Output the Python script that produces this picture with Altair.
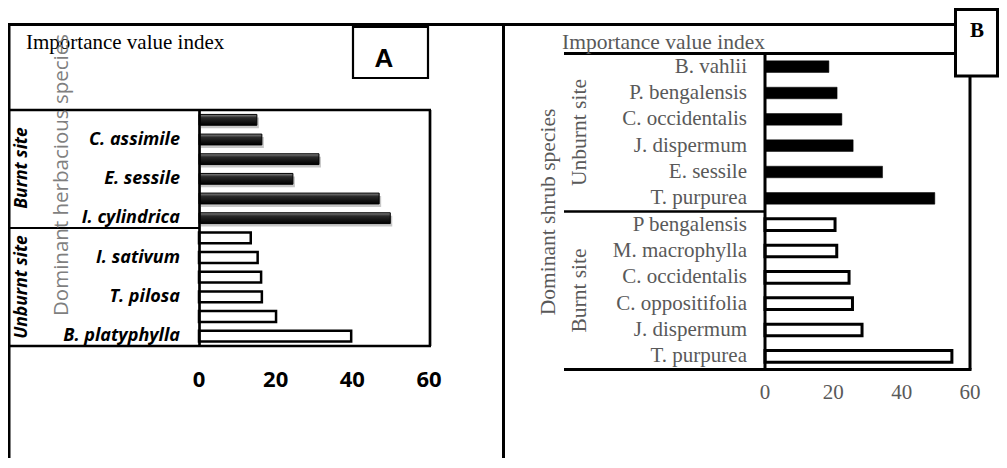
import altair as alt
import pandas as pd

# ---------------- data ----------------
# Panel A: dominant herbaceous species (every second bar is labelled)
a_burnt_labels = ["", "C. assimile", "", "E. sessile", "", "I. cylindrica"]
a_burnt_values = [15.1, 16.4, 31.3, 24.5, 47.0, 49.9]
a_unburnt_labels = ["", "I. sativum", "", "T. pilosa", "", "B. platyphylla"]
a_unburnt_values = [13.5, 15.3, 16.2, 16.4, 20.1, 39.7]

# Panel B: dominant shrub species
b_unburnt_species = ["B. vahlii", "P. bengalensis", "C. occidentalis",
                     "J. dispermum", "E. sessile", "T. purpurea"]
b_unburnt_values = [18.7, 21.1, 22.5, 25.8, 34.4, 49.7]
b_burnt_species = ["P bengalensis", "M. macrophylla", "C. occidentalis",
                   "C. oppositifolia", "J. dispermum", "T. purpurea"]
b_burnt_values = [20.5, 21.0, 24.6, 25.6, 28.4, 54.7]

ticks = [0, 20, 40, 60]

a_df = pd.DataFrame({
    "row": list(range(12)),
    "label": a_burnt_labels + a_unburnt_labels,
    "value": a_burnt_values + a_unburnt_values,
    "site": ["Burnt"] * 6 + ["Unburnt"] * 6,
})
b_df = pd.DataFrame({
    "row": list(range(12)),
    "label": b_unburnt_species + b_burnt_species,
    "value": b_unburnt_values + b_burnt_values,
    "site": ["Unburnt"] * 6 + ["Burnt"] * 6,
})
tick_df = pd.DataFrame({"t": ticks})

# ---------------- layout helpers (page coordinates, 8px margin) ----------------
M = 8


def px(v):
    return alt.value(v - M)


def hline(x1, x2, y, w=3):
    return alt.Chart().mark_rule(color="black", strokeWidth=w).encode(
        x=px(x1), x2=px(x2), y=px(y))


def vline(x, y1, y2, w=3):
    return alt.Chart().mark_rule(color="black", strokeWidth=w).encode(
        x=px(x), y=px(y1), y2=px(y2))


def box(x1, y1, x2, y2, w=2.5):
    return alt.Chart().mark_rect(fill="white", stroke="black", strokeWidth=w).encode(
        x=px(x1), x2=px(x2), y=px(y1), y2=px(y2))


def text(t, x, y, **kw):
    return alt.Chart().mark_text(text=t, **kw).encode(x=px(x), y=px(y))


# ---------------- scales ----------------
a_x = alt.Scale(domain=[0, 60], range=[199 - M, 429 - M], nice=False)
a_y = alt.Scale(domain=list(range(12)), range=[110 - M, 346 - M],
                paddingInner=0.45, paddingOuter=0.225)
b_x = alt.Scale(domain=[0, 60], range=[765 - M, 970 - M], nice=False)
b_y = alt.Scale(domain=list(range(12)), range=[53.5 - M, 369.5 - M],
                paddingInner=0.56, paddingOuter=0.28)

dark_grad = alt.LinearGradient(
    gradient="linear", x1=0, y1=0, x2=0, y2=1,
    stops=[alt.GradientStop(color="#8a8a8a", offset=0),
           alt.GradientStop(color="#2a2a2a", offset=0.3),
           alt.GradientStop(color="#111111", offset=0.7),
           alt.GradientStop(color="#000000", offset=1)])

SANS = "Open Sans"

# ---------------- panel A ----------------
a_base = alt.Chart(a_df).encode(
    y=alt.Y("row:O", scale=a_y, axis=None),
    x=alt.X("value:Q", scale=a_x, axis=None),
)
a_shadow = a_base.transform_filter("datum.site == 'Burnt'").mark_bar(
    color="#000000", opacity=0.22, xOffset=2, yOffset=3)
a_dark = a_base.transform_filter("datum.site == 'Burnt'").mark_bar(
    fill=dark_grad, stroke="#000000", strokeWidth=1)
a_white = a_base.transform_filter("datum.site == 'Unburnt'").mark_bar(
    fill="white", stroke="black", strokeWidth=2.5)
a_labels = alt.Chart(a_df).mark_text(
    align="right", baseline="middle", font=SANS, fontWeight="bold",
    fontStyle="italic", fontSize=18, color="black").encode(
    y=alt.Y("row:O", scale=a_y, axis=None), x=px(180), text="label:N")
a_ticks = alt.Chart(tick_df).mark_text(
    align="center", baseline="middle", font=SANS, fontWeight="bold",
    fontSize=22, color="black").encode(
    x=alt.X("t:Q", scale=a_x, axis=None), y=px(380),
    text=alt.Text("t:Q", format="d"))

panel_a = [
    vline(9, 23, 470),
    hline(8, 503, 24.5),
    hline(8, 431, 110, 2.7),
    hline(8, 431, 346, 2.7),
    hline(8, 199, 228, 2.2),
    vline(430, 110, 346, 2.7),
    a_shadow, a_dark, a_white,
    vline(199.5, 110, 346, 2.7),
    a_labels, a_ticks,
    text("Importance value index", 26, 48.5, align="left", baseline="alphabetic",
         font="Liberation Serif", fontSize=21, color="black"),
    text("Dominant herbacious species", 62, 175, align="center", baseline="middle",
         angle=270, font=SANS, fontSize=20.5, color="#7f7f7f"),
    text("Burnt site", 22, 168, align="center", baseline="middle", angle=270,
         font=SANS, fontWeight="bold", fontStyle="italic", fontSize=17.5, color="black"),
    text("Unburnt site", 22, 287, align="center", baseline="middle", angle=270,
         font=SANS, fontWeight="bold", fontStyle="italic", fontSize=17.5, color="black"),
    box(353, 27, 428, 78, 2.2),
    text("A", 384, 66.5, align="center", baseline="alphabetic",
         font="Liberation Sans", fontWeight="bold", fontSize=26, color="black"),
]

# ---------------- panel B ----------------
b_base = alt.Chart(b_df).encode(
    y=alt.Y("row:O", scale=b_y, axis=None),
    x=alt.X("value:Q", scale=b_x, axis=None),
)
b_dark = b_base.transform_filter("datum.site == 'Unburnt'").mark_bar(
    fill="black", stroke="black", strokeWidth=0.5)
b_white = b_base.transform_filter("datum.site == 'Burnt'").mark_bar(
    fill="white", stroke="black", strokeWidth=3)
gray = "#595959"
b_labels = alt.Chart(b_df).mark_text(
    align="right", baseline="middle", font="Liberation Serif", fontSize=21,
    color=gray).encode(
    y=alt.Y("row:O", scale=b_y, axis=None), x=px(747), text="label:N")
b_ticks = alt.Chart(tick_df).mark_text(
    align="center", baseline="middle", font="Liberation Serif", fontSize=21,
    color=gray).encode(
    x=alt.X("t:Q", scale=b_x, axis=None), y=px(393),
    text=alt.Text("t:Q", format="d"))

panel_b = [
    vline(503.5, 23, 470),
    hline(502, 1000, 24.5),
    hline(564, 970, 53.5),
    hline(564, 971.5, 369.5),
    hline(564, 765, 211.5, 2.5),
    vline(970, 53.5, 369.5),
    b_dark, b_white,
    vline(765, 53.5, 369.5),
    b_labels, b_ticks,
    text("Importance value index", 562, 48.5, align="left", baseline="alphabetic",
         font="Liberation Serif", fontSize=21.5, color=gray),
    text("Dominant shrub species", 549, 212, align="center", baseline="middle",
         angle=270, font="Liberation Serif", fontSize=21.5, color=gray),
    text("Unburnt site", 580, 132.5, align="center", baseline="middle", angle=270,
         font="Liberation Serif", fontSize=21.5, color=gray),
    text("Burnt site", 580, 290.5, align="center", baseline="middle", angle=270,
         font="Liberation Serif", fontSize=21.5, color=gray),
    box(955.5, 9.5, 997.5, 76, 3),
    text("B", 977, 37, align="center", baseline="alphabetic",
         font="Liberation Serif", fontWeight="bold", fontSize=21, color="black"),
]

chart = alt.layer(*panel_a, *panel_b).resolve_scale(
    x="independent", y="independent"
).properties(
    width=991, height=450, padding=0,
    autosize=alt.AutoSizeParams(type="none"),
    background="white",
).configure_view(stroke=None)

chart.save("out.html", embed_options={"renderer": "svg", "actions": False})
